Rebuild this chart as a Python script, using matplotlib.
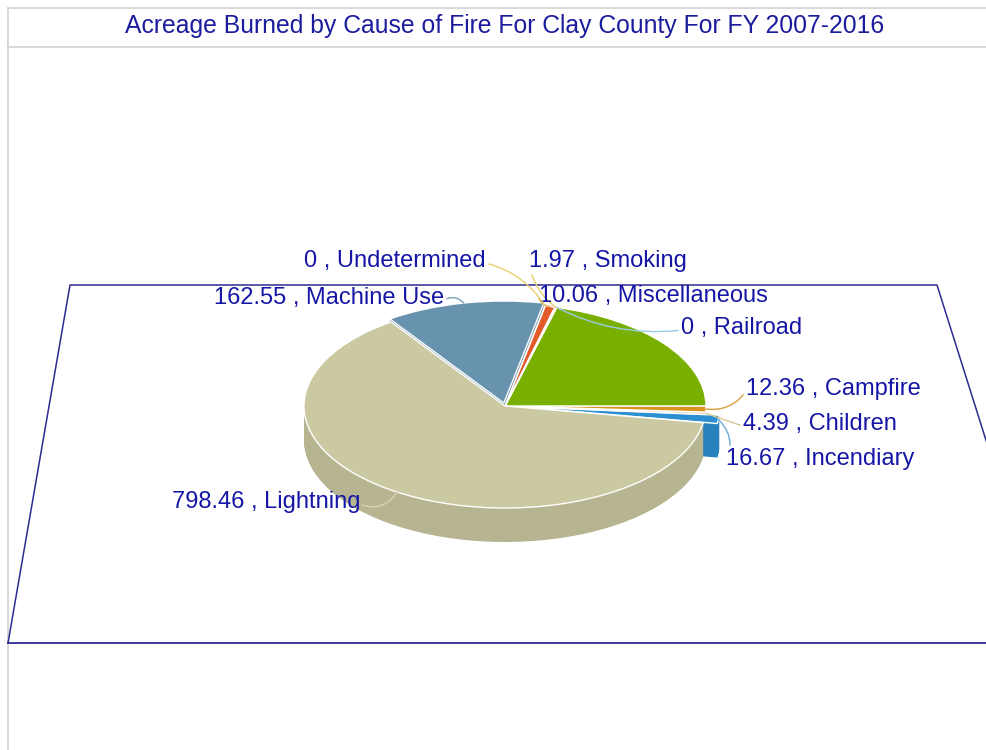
import numpy as np
import matplotlib
matplotlib.use("Agg")
import matplotlib.pyplot as plt
from matplotlib.colors import to_rgb

plt.rcParams['font.family'] = ['Liberation Sans', 'DejaVu Sans']

title = "Acreage Burned by Cause of Fire For Clay County For FY 2007-2016"

# slices in counter-clockwise order from the start angle ("" = unlabeled slice)
causes = ["Incendiary", "Children", "Campfire", "", "Railroad", "Smoking",
          "Miscellaneous", "Undetermined", "Machine Use", "Lightning"]
acres = [16.67, 4.39, 12.36, 265.0, 0.0, 1.97, 10.06, 0.0, 162.55, 798.46]

top_colors = ["#2b8fd2", "#cdb98c", "#d9921e", "#79b000", "#f4eeb8",
              "#f0e29a", "#e25b2a", "#f2d98a", "#6893ae", "#cbc9a1"]
leader_colors = ["#6aaad8", "#d8c890", "#d8a040", "#79b000", "#9ccbe6",
                 "#e6cf6a", "#e0a040", "#e8d070", "#7aa0b8", "#d6d3b0"]
explode = [0.07, 0, 0, 0, 0, 0, 0, 0, 0.03, 0]

# label baseline anchor (pixels from top-left), alignment, leader arc radius
label_pos = {
    "Undetermined": (486, 267, "right", -0.2),
    "Smoking": (529, 267, "left", 0.2),
    "Miscellaneous": (539, 302, "left", 0.3),
    "Railroad": (681, 334, "left", -0.15),
    "Machine Use": (444, 304, "right", -0.4),
    "Campfire": (746, 395, "left", -0.3),
    "Children": (743, 430, "left", 0.0),
    "Incendiary": (726, 465, "left", 0.35),
    "Lightning": (360, 508, "right", 0.4),
}

W, H = 986, 750
fig = plt.figure(figsize=(W / 100, H / 100), dpi=100, facecolor="white")

# overlay axes in pixel units for frame and floor plane
ov = fig.add_axes([0, 0, 1, 1])
ov.set_xlim(0, W)
ov.set_ylim(H, 0)
ov.axis("off")

frame_c = "#d2d2d2"
ov.plot([8, W], [8, 8], color=frame_c, lw=1.2)
ov.plot([8, W], [47, 47], color=frame_c, lw=1.2)
ov.plot([8, 8], [8, H], color=frame_c, lw=1.2)

plane_c = "#2c2c90"
ov.plot([8, 70, 937, 1050], [643, 285, 285, 643], color=plane_c, lw=1.1)
ov.plot([8, W], [643, 643], color=plane_c, lw=1.3)

ov.text(505, 33, title, ha="center", va="baseline", fontsize=17.8,
        color="#1c1c9e")

# pie axes: unit radius -> rx pixels horizontally, ry pixels vertically
cx, cy, rx, ry = 505, 406, 201, 102
pw, ph = 3 * rx, 3 * ry
ax = fig.add_axes([(cx - pw / 2) / W, (H - cy - ph / 2) / H, pw / W, ph / H])

start = -9.4
side_colors = [tuple(c * 0.9 for c in to_rgb(col)) for col in top_colors]
depth = 34 / ry
for d in np.linspace(-depth, 0, 45)[:-1]:
    ax.pie(acres, explode=explode, colors=side_colors, startangle=start,
           center=(0, d), wedgeprops=dict(linewidth=0))
wedges, _ = ax.pie(acres, explode=explode, colors=top_colors, startangle=start,
                   wedgeprops=dict(edgecolor="white", linewidth=1.0))
ax.set_aspect("auto")
ax.set_xlim(-1.5, 1.5)
ax.set_ylim(-1.5, 1.5)
ax.axis("off")


def fmt(v):
    return f"{v:.2f}".rstrip("0").rstrip(".")


for w, name, v, lc, ex in zip(wedges, causes, acres, leader_colors, explode):
    if not name:
        continue
    px, py, ha, rad = label_pos[name]
    th = np.deg2rad((w.theta1 + w.theta2) / 2)
    r = 1.0 + ex
    xy = (r * np.cos(th), r * np.sin(th))
    relx = 0.0 if ha == "left" else 1.0
    ax.annotate(f"{fmt(v)} , {name}", xy=xy, xycoords="data",
                xytext=(px, py), textcoords=ov.transData,
                ha=ha, va="baseline", fontsize=17, color="#1616a6",
                arrowprops=dict(arrowstyle="-", color=lc, lw=1.0,
                                shrinkA=0, shrinkB=0, relpos=(relx, 0.4),
                                connectionstyle=f"arc3,rad={rad}"))

fig.savefig("out.png", dpi=100, facecolor="white")
